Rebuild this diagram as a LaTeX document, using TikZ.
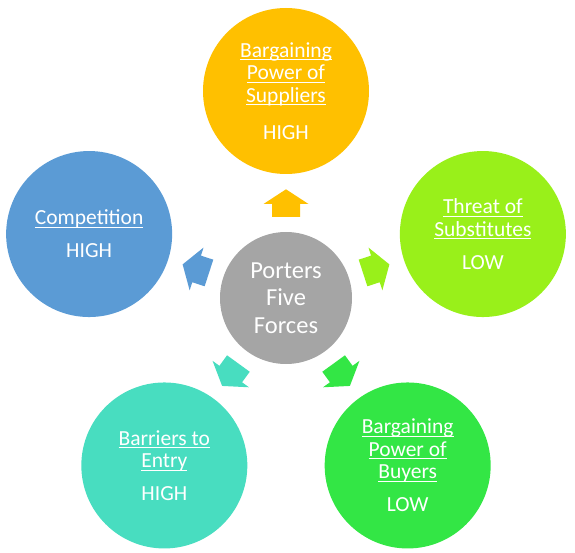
\documentclass[tikz,border=0pt]{standalone}
\usepackage{fontspec}
\setmainfont{Carlito}
\usetikzlibrary{calc}
\definecolor{cgold}{HTML}{FFC000}
\definecolor{clime}{HTML}{99F01A}
\definecolor{cblue}{HTML}{5B9BD5}
\definecolor{cturq}{HTML}{48DDC0}
\definecolor{cgreen}{HTML}{33E645}
\definecolor{cgray}{HTML}{A5A5A5}
\newsavebox\ulbox
\newcommand{\ulin}[1]{\sbox\ulbox{#1}\rlap{\rule[-3.2pt]{\wd\ulbox}{1pt}}\usebox\ulbox}
\tikzset{
  force/.style={circle, fill=#1, draw=none, minimum size=166pt, inner sep=0pt,
    text=white, align=center, font=\fontsize{21.5}{22.5}\selectfont},
  hub/.style={circle, fill=cgray, draw=none, minimum size=132pt, inner sep=0pt,
    text=white, align=center, font=\fontsize{24.5}{27.5}\selectfont},
  blockarrow/.pic={
    \fill[pic actions] (81,-14) -- (94,-14) -- (94,-22.5) -- (108.7,0)
      -- (94,22.5) -- (94,14) -- (81,14) -- cycle;
  }
}
\begin{document}
\begin{tikzpicture}[x=1pt,y=-1pt]
\useasboundingbox (0,0) rectangle (575,553);
\coordinate (C) at (286,298);
\node[hub] (hub) at (C) {Porters\\Five\\Forces};
\node[force=cgold] (sup) at ($(C)+(-90:207)$)
  {\ulin{Bargaining}\\\ulin{Power of}\\\ulin{Suppliers}\\[15pt]HIGH};
\node[force=clime] (sub) at ($(C)+(-18:207)$)
  {\ulin{Threat of}\\\ulin{Substitutes}\\[10.5pt]LOW};
\node[force=cgreen] (buy) at ($(C)+(54:207)$)
  {\ulin{Bargaining}\\\ulin{Power of}\\\ulin{Buyers}\\[10.5pt]LOW};
\node[force=cturq] (bar) at ($(C)+(126:207)$)
  {\ulin{Barriers to}\\\ulin{Entry}\\[10.5pt]HIGH};
\node[force=cblue] (com) at ($(C)+(198:207)$)
  {\ulin{Competition}\\[10.5pt]HIGH};
\pic[fill=cgold, shift={(C)}, rotate=90] {blockarrow};
\pic[fill=clime, shift={(C)}, rotate=18] {blockarrow};
\pic[fill=cgreen, shift={(C)}, rotate=-54] {blockarrow};
\pic[fill=cturq, shift={(C)}, rotate=-126] {blockarrow};
\pic[fill=cblue, shift={(C)}, rotate=162] {blockarrow};
\end{tikzpicture}
\end{document}
